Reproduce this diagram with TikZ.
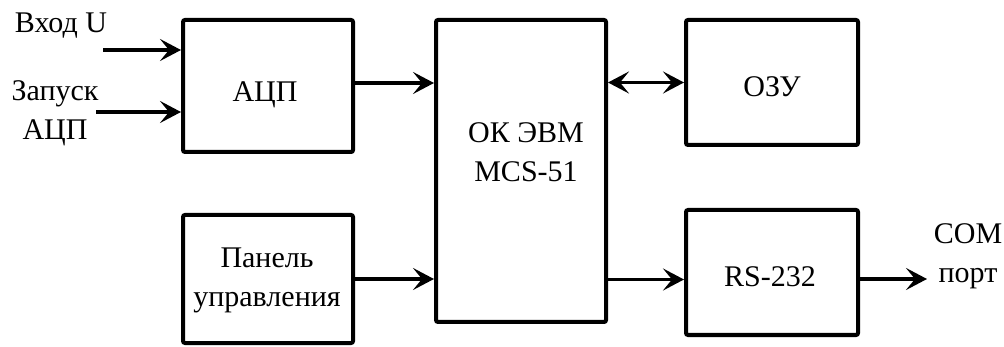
\documentclass[tikz,border=0pt]{standalone}
\usepackage{fontspec}
\setmainfont{Liberation Serif}
\usetikzlibrary{arrows.meta}
\begin{document}
\begin{tikzpicture}[x=1pt,y=-1pt,
  blk/.style={draw, line width=4pt, rounded corners=2pt, inner sep=0pt, rectangle},
  arr/.style={line width=3.6pt, -{Stealth[length=21pt,width=22pt,inset=9pt]}},
  darr/.style={line width=3.6pt, {Stealth[length=21pt,width=22pt,inset=9pt]}-{Stealth[length=21pt,width=22pt,inset=9pt]}},
  lbl/.style={font=\fontsize{30}{39}\selectfont, inner sep=0pt, align=center, anchor=base}]
\useasboundingbox (0,0) rectangle (1004,347);
% blocks
\node[blk, minimum width=170pt, minimum height=132pt] (adc) at (268,86) {};
\node[blk, minimum width=170pt, minimum height=302pt] (cpu) at (521,171) {};
\node[blk, minimum width=172pt, minimum height=125pt] (ram) at (772,82.5) {};
\node[blk, minimum width=170pt, minimum height=128pt] (panel) at (268,279) {};
\node[blk, minimum width=172pt, minimum height=125pt] (rs) at (772,272.5) {};
% labels (base = baseline of last line)
\node[lbl] (tin) at (61,33) {Вход U};
\node[lbl] (tzap) at (55,140) {Запуск\\АЦП};
\node[lbl] (tadc) at (265,102) {АЦП};
\node[lbl] (tcpu) at (526,182) {ОК ЭВМ\\MCS-51};
\node[lbl] (tram) at (772,97) {ОЗУ};
\node[lbl] (tpan) at (267,307) {Панель\\управления};
\node[lbl] (trs) at (770,287) {RS-232};
\node[lbl] (tcom) at (968,283) {COM\\порт};
% free ends
\coordinate (in1) at (103,50);
\coordinate (in2) at (96,112);
\coordinate (com) at (927,279);
% connectors
\draw[arr] (in1) -- (in1 -| adc.west);
\draw[arr] (in2) -- (in2 -| adc.west);
\draw[arr] ([yshift=3pt]adc.east) -- ([yshift=3pt]adc.east -| cpu.west);
\draw[darr] (ram.west -| cpu.east) -- (ram.west);
\draw[arr] (panel.east) -- (panel.east -| cpu.west);
\draw[arr] ([yshift=-7pt]rs.west -| cpu.east) -- ([yshift=-7pt]rs.west);
\draw[arr] ([yshift=-6.5pt]rs.east) -- (com);
\end{tikzpicture}
\end{document}
